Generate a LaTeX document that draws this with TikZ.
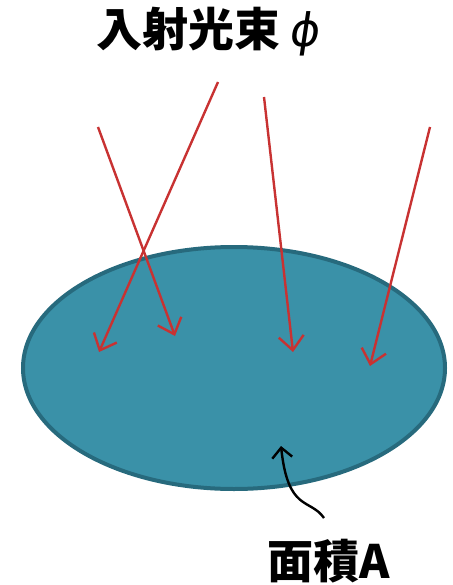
\documentclass[tikz,border=0pt]{standalone}
\usepackage{fontspec}
\newfontfamily\cjk{Noto Sans CJK JP}
\newfontfamily\grk{DejaVu Sans}[FakeSlant=0.15]
\usetikzlibrary{arrows.meta}
\definecolor{discfill}{HTML}{3A91A8}
\definecolor{discline}{HTML}{276A7D}
\definecolor{rayred}{HTML}{C83232}

\begin{document}
\begin{tikzpicture}[x=1pt,y=-1pt,font=\cjk\bfseries\fontsize{46}{50}\selectfont,
  ray/.style={rayred,line width=2.4pt,-{Straight Barb[length=14pt,width=25pt]}}]
\useasboundingbox (0,0) rectangle (452,585);
\draw[discline,fill=discfill,line width=4pt] (234,368) ellipse [x radius=211,y radius=121];
% incident rays
\foreach \n/\sx/\sy/\ex/\ey in {a/218/82/99/352,b/98/127/175/336,c/264/97/293/352,d/430/127/370/366}{
  \coordinate (s\n) at (\sx,\sy);
  \coordinate (e\n) at (\ex,\ey);
  \draw[ray] (s\n)--(e\n);
}
\node (flux) at (208,32) {入射光束\,{\grk\mdseries ϕ}};
\node (area) at (329,561) {面積A};
\coordinate (pt) at (281,446);
\draw[line width=2.4pt,-{Straight Barb[length=10pt,width=20pt]}] (324,518) .. controls (310,498) and (288,512) .. (pt);
\end{tikzpicture}
\end{document}
